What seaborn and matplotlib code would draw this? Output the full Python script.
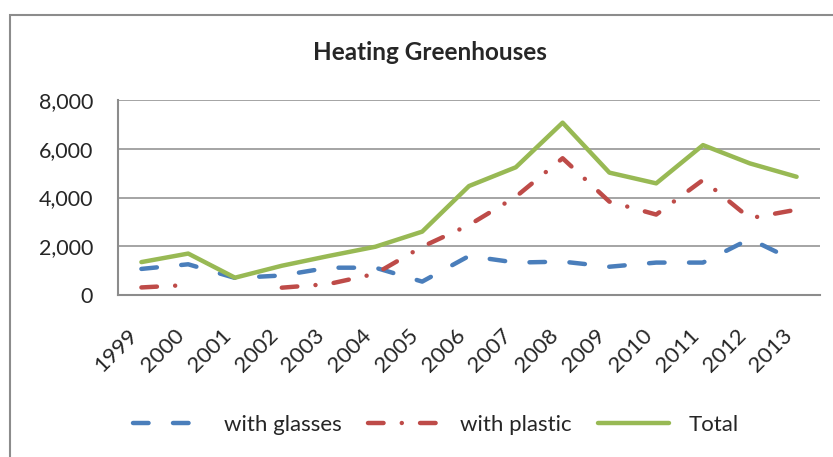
import numpy as np
import pandas as pd
import matplotlib.pyplot as plt
import seaborn as sns
from matplotlib.ticker import FuncFormatter
from matplotlib.patches import Rectangle

# values
years = ['1999', '2000', '2001', '2002', '2003', '2004', '2005', '2006',
         '2007', '2008', '2009', '2010', '2011', '2012', '2013']
glasses = [1070, 1260, 700, 800, 1120, 1120, 550, 1600, 1330, 1370, 1160, 1330, 1330, 2300, 1370]
plastic = [310, 410, np.nan, 300, 450, 870, 1980, 2870, 4030, 5610, 3830, 3300, 4720, 3150, 3500]
total = [1350, 1700, 710, 1200, 1600, 1980, 2600, 4470, 5240, 7070, 5020, 4580, 6150, 5400, 4850]

series = {'with glasses': glasses, 'with plastic': plastic, 'Total': total}
frames = []
for name, vals in series.items():
    vals = np.array(vals, dtype=float)
    # a missing value breaks the line into separate pieces
    seg = np.isnan(vals).cumsum()
    frames.append(pd.DataFrame({'year': years, 'value': vals, 'series': name, 'seg': seg}))
df = pd.concat(frames, ignore_index=True).dropna()

sns.set_style('white')
plt.rcParams['font.family'] = ['Lato', 'DejaVu Sans']

palette = {'with glasses': '#4A7EBB', 'with plastic': '#BE4B48', 'Total': '#98B954'}
dashes = {'with glasses': (3.5, 5.5), 'with plastic': (3.5, 4.1, 0.01, 4.1), 'Total': ''}

fig = plt.figure(figsize=(8.33, 4.57), dpi=100)
ax = fig.add_axes([118 / 833, 1 - 295 / 457, 702 / 833, 195 / 457])

sns.lineplot(data=df, x='year', y='value', hue='series', style='series',
             units='seg', estimator=None, sort=False,
             hue_order=list(series), style_order=list(series),
             palette=palette, dashes=dashes, linewidth=3.2,
             dash_capstyle='round', solid_capstyle='round', ax=ax)

ax.set_xlim(-0.5, len(years) - 0.5)
ax.set_ylim(0, 8000)
ax.set_yticks([0, 2000, 4000, 6000, 8000])
ax.yaxis.set_major_formatter(FuncFormatter(lambda v, p: f'{v:,.0f}'))
ax.grid(axis='y', color='#8C8C8C', linewidth=1.1)
ax.set_axisbelow(True)
ax.set_xlabel('')
ax.set_ylabel('')
for s in ['top', 'right']:
    ax.spines[s].set_visible(False)
for s in ['left', 'bottom']:
    ax.spines[s].set_color('#8C8C8C')
    ax.spines[s].set_linewidth(1.5)
ax.tick_params(axis='y', length=0, pad=18, labelsize=15.5)
ax.tick_params(axis='x', length=0, pad=22, labelsize=16)
plt.setp(ax.get_xticklabels(), rotation=45, ha='right')

sns.move_legend(ax, 'center', bbox_to_anchor=(436 / 833, 32 / 457),
                bbox_transform=fig.transFigure, ncol=3, frameon=False,
                title=None, fontsize=16, handlelength=3.2, handletextpad=0.9,
                columnspacing=1.2)

fig.text(430 / 833, 1 - 52 / 457, 'Heating Greenhouses', ha='center', va='center',
         fontsize=17.5, fontweight='bold')

fig.patches.append(Rectangle((10 / 833, -0.2), 1.2, 0.2 + 1 - 15 / 457,
                             transform=fig.transFigure, fill=False,
                             edgecolor='#8C8C8C', linewidth=1.5))

fig.savefig('out.png', dpi=100)
